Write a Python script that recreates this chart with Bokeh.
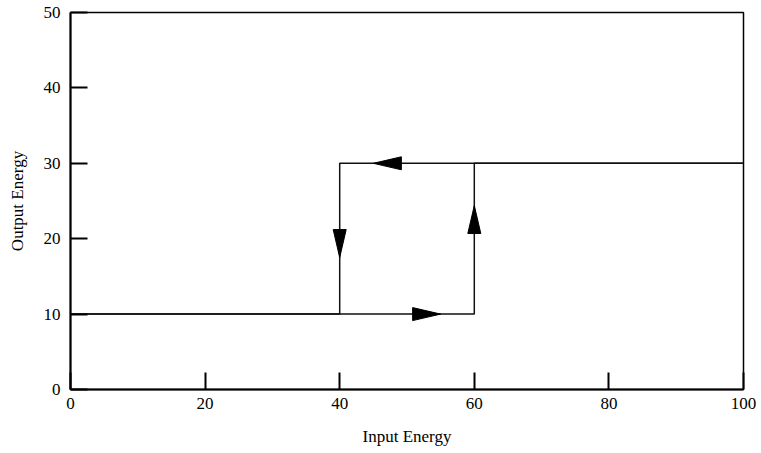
import numpy as np
from bokeh.plotting import figure
from bokeh.models import Range1d, FixedTicker
from bokeh.embed import file_html
from bokeh.resources import INLINE

# Hysteresis loop of output energy against input energy
upper_x = [0, 60, 60, 100]        # rising branch
upper_y = [10, 10, 30, 30]
lower_x = [100, 40, 40, 0]        # falling branch
lower_y = [30, 30, 10, 10]

# Direction arrows: tip position and heading angle (degrees)
arrow_x = [55, 60, 45, 40]
arrow_y = [10, 24.4, 30, 17.5]
arrow_angle = [0, 90, 180, 270]

x_ticks = [0, 20, 40, 60, 80, 100]
y_ticks = [0, 10, 20, 30, 40, 50]

FW, FH = 673, 377
X0, X1, Y0, Y1 = 0, 100, 0, 50

p = figure(
    width=761, height=453,
    frame_width=FW, frame_height=FH,
    x_range=Range1d(X0, X1), y_range=Range1d(Y0, Y1),
    output_backend="svg", toolbar_location=None,
    min_border_left=70, min_border_right=18,
    min_border_top=12, min_border_bottom=64,
)
p.background_fill_color = "white"
p.border_fill_color = "white"
p.outline_line_color = "black"
p.outline_line_width = 1.5
p.grid.visible = False

font = "Liberation Serif"
for ax, ticks, label in ((p.xaxis[0], x_ticks, "Input Energy"),
                         (p.yaxis[0], y_ticks, "Output Energy")):
    ax.ticker = FixedTicker(ticks=ticks)
    ax.axis_label = label
    ax.axis_label_text_font = font
    ax.axis_label_text_font_size = "17px"
    ax.axis_label_text_font_style = "normal"
    ax.axis_label_text_color = "black"
    ax.major_label_text_font = font
    ax.major_label_text_font_size = "17px"
    ax.major_label_text_color = "black"
    ax.major_tick_in = 17
    ax.major_tick_out = 0
    ax.major_tick_line_width = 2
    ax.major_tick_line_color = "black"
    ax.minor_tick_line_color = None
    ax.axis_line_width = 2
    ax.axis_line_color = "black"

p.xaxis[0].major_label_standoff = 8
p.xaxis[0].axis_label_standoff = 15
p.yaxis[0].major_label_standoff = 10
p.yaxis[0].axis_label_standoff = 14

p.line(upper_x, upper_y, line_color="#111111", line_width=1.5)
p.line(lower_x, lower_y, line_color="#111111", line_width=1.5)

# Arrow heads sized in pixels, converted to data units
sx = FW / (X1 - X0)
sy = FH / (Y1 - Y0)
head_len, head_half = 28.0, 6.5
xs, ys = [], []
for tx, ty, ang in zip(arrow_x, arrow_y, arrow_angle):
    a = np.deg2rad(ang)
    ux, uy = np.cos(a), np.sin(a)
    nx, ny = -uy, ux
    bx, by = -ux * head_len, -uy * head_len
    pts = [(0, 0), (bx + nx * head_half, by + ny * head_half),
           (bx - nx * head_half, by - ny * head_half)]
    xs.append([tx + px_ / sx for px_, _ in pts])
    ys.append([ty + py_ / sy for _, py_ in pts])
p.patches(xs, ys, fill_color="black", line_color="black", line_width=1)

open("out.html", "w").write(file_html(p, INLINE))
